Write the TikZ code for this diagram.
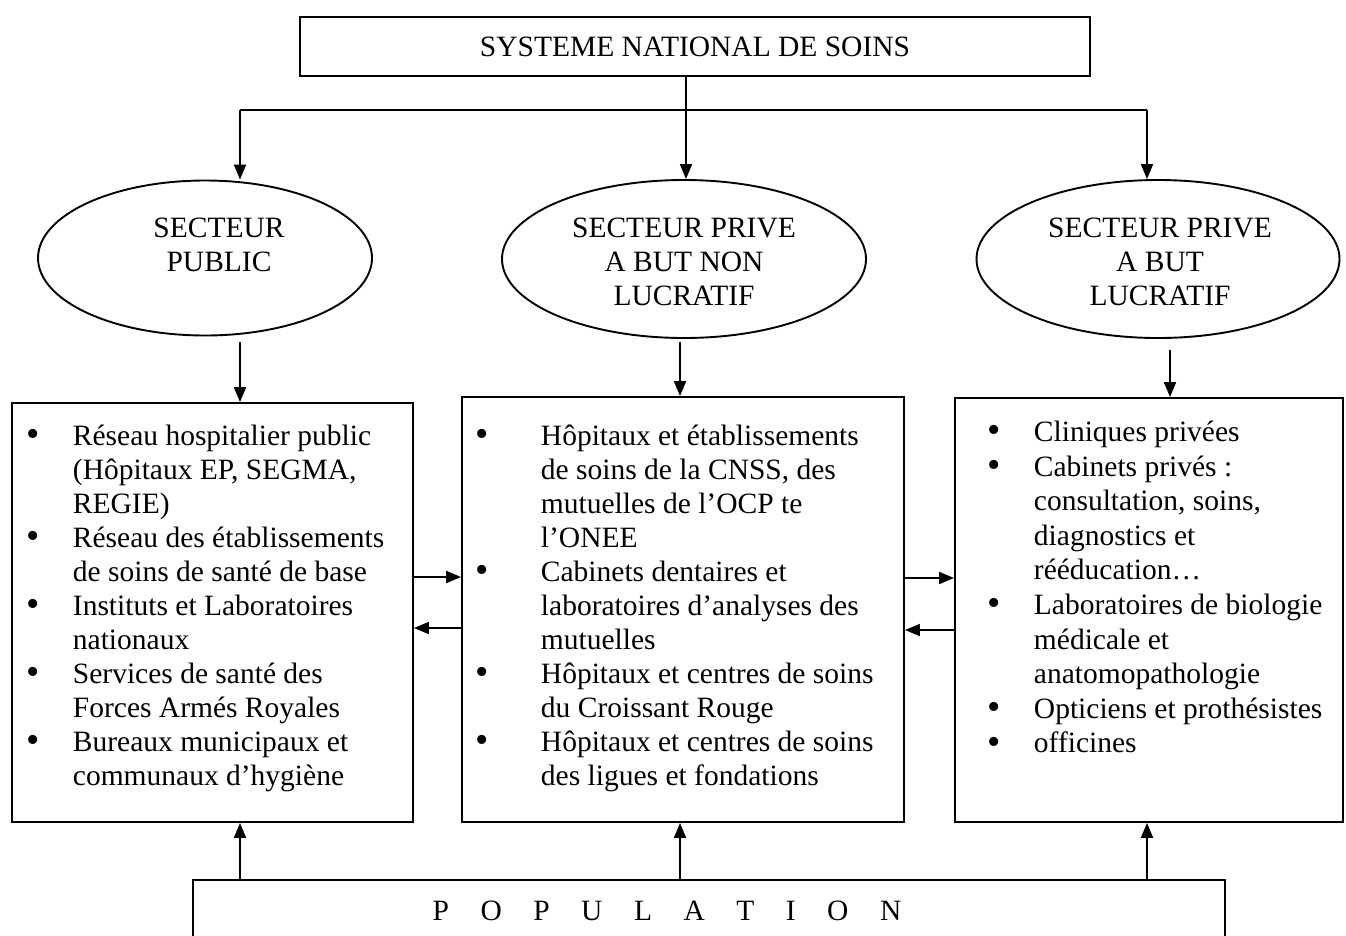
\documentclass[tikz,border=0pt]{standalone}
\usepackage{fontspec}
\setmainfont{Liberation Serif}
\usetikzlibrary{arrows.meta,shapes.geometric}
\newcommand{\bl}[2]{\makebox[#1][l]{\raisebox{-1.5pt}{\fontsize{38}{34}\selectfont\textbullet}}#2}
\newcommand{\cl}[2]{\hspace*{#1}#2}
\begin{document}
\begin{tikzpicture}[x=1pt,y=-1pt, line width=1.9pt,
  box/.style={draw, rectangle, inner sep=0pt},
  ell/.style={draw, ellipse, inner sep=0pt},
  arr/.style={-{Triangle[length=15pt,width=12pt]}},
  txt/.style={font=\fontsize{29.5}{34}\selectfont, inner sep=0pt, align=center},
  lst/.style={font=\fontsize{29.5}{34}\selectfont, inner sep=0pt, align=left, anchor=north west}]
\useasboundingbox (0,0) rectangle (1346,935);

% top
\node[box, minimum width=790pt, minimum height=59pt, txt] (top) at (695,46.5) {SYSTEME NATIONAL DE SOINS};
\coordinate (j) at (686,110);
\coordinate (jl) at (240,110);
\coordinate (jr) at (1147,110);
\draw (top.south -| j) -- (j);
\draw (jl) -- (jr);

% ellipses
\node[ell, minimum width=334pt, minimum height=155pt] (el) at (205,258) {};
\node[ell, minimum width=364pt, minimum height=158pt] (em) at (684,259) {};
\node[ell, minimum width=363pt, minimum height=158pt] (er) at (1158,259) {};
\node[txt] (elt) at (219,245) {SECTEUR\\PUBLIC};
\node[txt] (emt) at (684,262) {SECTEUR PRIVE\\A BUT NON\\LUCRATIF};
\node[txt] (ert) at (1160,262) {SECTEUR PRIVE\\A BUT\\LUCRATIF};

\draw[arr] (jl) -- (jl |- el.north);
\draw[arr] (j) -- (j |- em.north);
\draw[arr] (jr) -- (jr |- er.north);

% boxes
\node[box, minimum width=401pt, minimum height=419pt] (lb) at (212.5,612.5) {};
\node[box, minimum width=442pt, minimum height=425pt] (mb) at (683,609.5) {};
\node[box, minimum width=388pt, minimum height=424pt] (rb) at (1149,610) {};

\coordinate (dl) at (240,342);
\coordinate (dm) at (680,342);
\coordinate (dr) at (1170,350);
\draw[arr] (dl) -- (dl |- lb.north);
\draw[arr] (dm) -- (dm |- mb.north);
\draw[arr] (dr) -- (dr |- rb.north);

% side arrows
\coordinate (a1) at (0,577);
\coordinate (a2) at (0,628);
\coordinate (a3) at (0,578);
\coordinate (a4) at (0,630);
\draw[arr] (lb.east |- a1) -- (mb.west |- a1);
\draw[arr] (mb.west |- a2) -- (lb.east |- a2);
\draw[arr] (mb.east |- a3) -- (rb.west |- a3);
\draw[arr] (rb.west |- a4) -- (mb.east |- a4);

% lists
\node[lst] (ll) at (26,424) {%
\bl{46pt}{Réseau hospitalier public}\\
\cl{46pt}{(Hôpitaux EP, SEGMA,}\\
\cl{46pt}{REGIE)}\\
\bl{46pt}{Réseau des établissements}\\
\cl{46pt}{de soins de santé de base}\\
\bl{46pt}{Instituts et Laboratoires}\\
\cl{46pt}{nationaux}\\
\bl{46pt}{Services de santé des}\\
\cl{46pt}{Forces Armés Royales}\\
\bl{46pt}{Bureaux municipaux et}\\
\cl{46pt}{communaux d’hygiène}};

\node[lst] (ml) at (475,424) {%
\bl{65pt}{Hôpitaux et établissements}\\
\cl{65pt}{de soins de la CNSS, des}\\
\cl{65pt}{mutuelles de l’OCP te}\\
\cl{65pt}{l’ONEE}\\
\bl{65pt}{Cabinets dentaires et}\\
\cl{65pt}{laboratoires d’analyses des}\\
\cl{65pt}{mutuelles}\\
\bl{65pt}{Hôpitaux et centres de soins}\\
\cl{65pt}{du Croissant Rouge}\\
\bl{65pt}{Hôpitaux et centres de soins}\\
\cl{65pt}{des ligues et fondations}};

\node[lst, font=\fontsize{29.5}{34.6}\selectfont] (rl) at (987,420) {%
\bl{46pt}{Cliniques privées}\\
\bl{46pt}{Cabinets privés :}\\
\cl{46pt}{consultation, soins,}\\
\cl{46pt}{diagnostics et}\\
\cl{46pt}{rééducation…}\\
\bl{46pt}{Laboratoires de biologie}\\
\cl{46pt}{médicale et}\\
\cl{46pt}{anatomopathologie}\\
\bl{46pt}{Opticiens et prothésistes}\\
\bl{46pt}{officines}};

% population
\node[box, minimum width=1032pt, minimum height=64pt] (pop) at (709,912) {};
\node[txt] (popt) at (667,911) {P\hspace{31.5pt}O\hspace{31.5pt}P\hspace{31.5pt}U\hspace{31.5pt}L\hspace{31.5pt}A\hspace{31.5pt}T\hspace{31.5pt}I\hspace{31.5pt}O\hspace{31.5pt}N};
\coordinate (ul) at (240,0);
\coordinate (um) at (680,0);
\coordinate (ur) at (1147,0);
\draw[arr] (ul |- pop.north) -- (ul |- lb.south);
\draw[arr] (um |- pop.north) -- (um |- mb.south);
\draw[arr] (ur |- pop.north) -- (ur |- rb.south);
\end{tikzpicture}
\end{document}
